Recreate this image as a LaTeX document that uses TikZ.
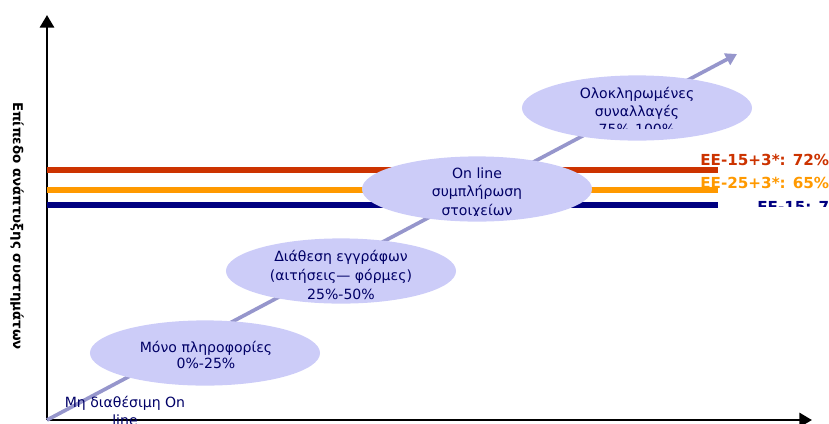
\documentclass[tikz,border=0pt]{standalone}
\usepackage{fontspec}
\setmainfont{DejaVu Sans}
\usepackage{xcolor}
\usetikzlibrary{shapes.geometric, arrows.meta, positioning}

\definecolor{stagefill}{RGB}{204,204,248}
\definecolor{growline}{RGB}{150,150,204}
\definecolor{eered}{RGB}{204,51,0}
\definecolor{eeorange}{RGB}{255,153,0}
\definecolor{eenavy}{RGB}{0,0,128}
\definecolor{stagetxt}{RGB}{0,0,102}

\begin{document}
\begin{tikzpicture}[
  x=0.025cm, y=-0.025cm,
  stage/.style={ellipse, fill=stagefill, inner sep=0pt, minimum width=5.75cm, minimum height=1.63cm},
  stagetext/.style={align=center, text=stagetxt, inner sep=0pt, font=\fontsize{10}{13.2}\selectfont},
  axis/.style={-{Triangle[width=10pt,length=9pt]}, line width=2pt},
  growarrow/.style={-{Triangle[width=9pt,length=8pt]}, line width=2.6pt, growline},
  level/.style={line width=4.2pt},
  levellabel/.style={anchor=base west, inner sep=0pt, font=\fontsize{10.8}{12}\selectfont\bfseries},
]
\useasboundingbox (0,0) rectangle (829,423);
\clip (0,0) rectangle (829,423);

% Axes
\coordinate (o) at (47,420);
\coordinate (ytip) at (47,15);
\coordinate (xtip) at (812,420);
\draw[axis] (o) -- (ytip);
\draw[axis] (o) -- (xtip);
\node[rotate=-90, inner sep=0pt, font=\fontsize{9.5}{11}\selectfont\bfseries] (ylabel) at (17,226) {Επίπεδο ανάπτυξης συστημάτων};

% Diagonal
\coordinate (dtip) at (737,54);
\draw[growarrow] (o) -- (dtip);

% Levels
\coordinate (red0) at (47,170);
\coordinate (red1) at (718,170);
\coordinate (orange0) at (47,190);
\coordinate (orange1) at (718,190);
\coordinate (navy0) at (47,205);
\coordinate (navy1) at (718,205);
\draw[level, eered] (red0) -- (red1);
\draw[level, eeorange] (orange0) -- (orange1);
\draw[level, eenavy] (navy0) -- (navy1);

% Stages
\node[stage] (info) at (205,353) {};
\node[stage] (docs) at (341,271) {};
\node[stage] (online) at (477,189) {};
\node[stage] (trans) at (637,108) {};

\node[stagetext, font=\fontsize{10}{12}\selectfont] (infotext) at (206,355) {Μόνο πληροφορίες\\0\%-25\%};
\node[stagetext] (docstext) at (341,275) {Διάθεση εγγράφων\\(αιτήσεις— φόρμες)\\25\%-50\%};
\begin{scope}
  \clip (350,140) rectangle (600,215);
  \node[stagetext] (onlinetext) at (477,193) {On line\\συμπλήρωση\\στοιχείων};
\end{scope}
\begin{scope}
  \clip (510,60) rectangle (760,128);
  \node[stagetext, font=\fontsize{10}{13}\selectfont] (transtext) at (637,111) {Ολοκληρωμένες\\συναλλαγές\\75\%-100\%};
\end{scope}
\node[stagetext, font=\fontsize{10}{12.8}\selectfont] (na) at (125,411) {Μη διαθέσιμη On\\line};

% Labels
\node[levellabel, text=eered] (redlabel) at (700,165) {ΕΕ-15+3*: 72\%};
\node[levellabel, text=eeorange] (orangelabel) at (700,188) {ΕΕ-25+3*: 65\%};
\begin{scope}
  \clip (740,195) rectangle (829,206);
  \node[levellabel, text=eenavy] (navylabel) at (757,212) {ΕΕ-15: 75\%};
\end{scope}

\end{tikzpicture}
\end{document}
